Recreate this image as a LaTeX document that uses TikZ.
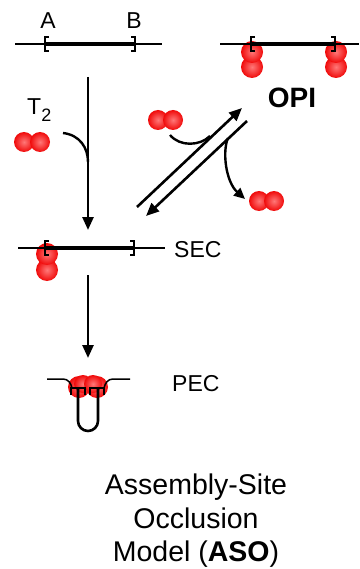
\documentclass[tikz,border=0pt]{standalone}
\usepackage{fontspec}
\setmainfont{Liberation Sans}
\usetikzlibrary{arrows.meta}
\begin{document}
\begin{tikzpicture}[x=1pt,y=-1pt,
  thin dna/.style={line width=1.5pt, black},
  core/.style={line width=3.2pt, black},
  bracket/.style={line width=2.8pt, black, line join=miter},
  flow/.style={line width=2.6pt, -{Triangle[length=13pt,width=11pt]}},
  branch/.style={line width=2.4pt},
  lbl/.style={inner sep=0pt, font=\fontsize{23}{27}\selectfont},
  ball/.style={inner color={rgb,255:red,255;green,120;blue,120},
               outer color={rgb,255:red,240;green,10;blue,10}},
  lbrack/.pic={\draw[bracket] (4,-7) -- (0,-7) -- (0,7) -- (4,7);},
  rbrack/.pic={\draw[bracket] (-4,-7) -- (0,-7) -- (0,7) -- (-4,7);},
]
\useasboundingbox (0,0) rectangle (359,569);
\fill[white] (0,0) rectangle (359,569);

% free DNA with the A--B segment
\draw[thin dna] (15,44) -- (162,44);
\draw[core] (45,44) -- (135,44);
\pic at (45,44) {lbrack};
\pic at (135,44) {rbrack};
\node[lbl] (A) at (48,21) {A};
\node[lbl] (B) at (134,21) {B};

% T2 dimer joining the main pathway
\node[lbl, anchor=base west] (T2) at (27,115) {T\raisebox{-7pt}{\fontsize{18}{18}\selectfont 2}};
\shade[ball] (24,142) circle[radius=10pt];
\shade[ball] (40,142) circle[radius=10pt];
\coordinate (free) at (88,77);
\coordinate (secin) at (88,230);
\coordinate (t2tail) at (63,133);
\coordinate (t2join) at (88,162);
\draw[flow] (free) -- (secin);
\draw[branch] (t2tail) .. controls (80,135) and (88,148) .. (t2join);

% OPI state: both ends capped
\shade[ball] (252,67) circle[radius=11pt];
\shade[ball] (252,52) circle[radius=11pt];
\shade[ball] (336,67) circle[radius=11pt];
\shade[ball] (336,52) circle[radius=11pt];
\draw[thin dna] (220,44) -- (359,44);
\draw[core] (251,44) -- (335,44);
\pic at (251,44) {lbrack};
\pic at (335,44) {rbrack};
\node[inner sep=0pt, font=\fontsize{28}{32}\selectfont\bfseries] (OPI) at (292,98) {OPI};

% exchange between SEC and OPI
\coordinate (up0) at (137,207);
\coordinate (up1) at (242,108);
\coordinate (dn0) at (247,121);
\coordinate (dn1) at (146,216);
\draw[flow] (up0) -- (up1);
\draw[flow] (dn0) -- (dn1);
\shade[ball] (158,120) circle[radius=10pt];
\shade[ball] (173,120) circle[radius=10pt];
\coordinate (intail) at (170,135);
\coordinate (injoin) at (210,136);
\draw[branch] (intail) .. controls (180,147) and (200,146) .. (injoin);
\coordinate (outroot) at (228,138);
\coordinate (outtip) at (245,199);
\draw[branch, -{Triangle[length=11pt,width=10pt]}] (outroot) .. controls (222,152) and (226,182) .. (outtip);
\shade[ball] (259,201) circle[radius=10pt];
\shade[ball] (274,201) circle[radius=10pt];

% SEC state: one end capped
\shade[ball] (47,270) circle[radius=11pt];
\shade[ball] (47,254) circle[radius=11pt];
\draw[thin dna] (18,248) -- (165,248);
\draw[core] (45,248) -- (134,248);
\pic at (45,248) {lbrack};
\pic at (134,248) {rbrack};
\node[lbl, anchor=west] (SEC) at (174,250) {SEC};

% SEC to PEC
\coordinate (secout) at (88,275);
\coordinate (pecin) at (88,358);
\draw[flow] (secout) -- (pecin);

% PEC state: looped segment with both ends capped
\shade[ball] (79,387) circle[radius=11pt];
\shade[ball] (97,387) circle[radius=11pt];
\shade[ball] (83,384) circle[radius=9pt];
\shade[ball] (93,384) circle[radius=9pt];
\draw[thin dna] (47,379) -- (63,379) .. controls (68,379) and (71,383) .. (72,388);
\draw[thin dna] (104,388) .. controls (105,383) and (108,379) .. (113,379) -- (130,379);
\draw[bracket] (71,395) -- (71,388) -- (85,388) -- (85,395);
\draw[bracket] (90,395) -- (90,388) -- (104,388) -- (104,395);
\draw[line width=2.6pt] (78,388) -- (78,421) arc[start angle=180, end angle=0, radius=10] -- (98,388);
\node[lbl, anchor=west] (PEC) at (172,384) {PEC};

% caption
\node[inner sep=0pt, align=center, font=\fontsize{28.5}{33.5}\selectfont, anchor=north] (title) at (196,474)
  {Assembly-Site\\Occlusion\\Model (\textbf{ASO})};
\end{tikzpicture}
\end{document}
